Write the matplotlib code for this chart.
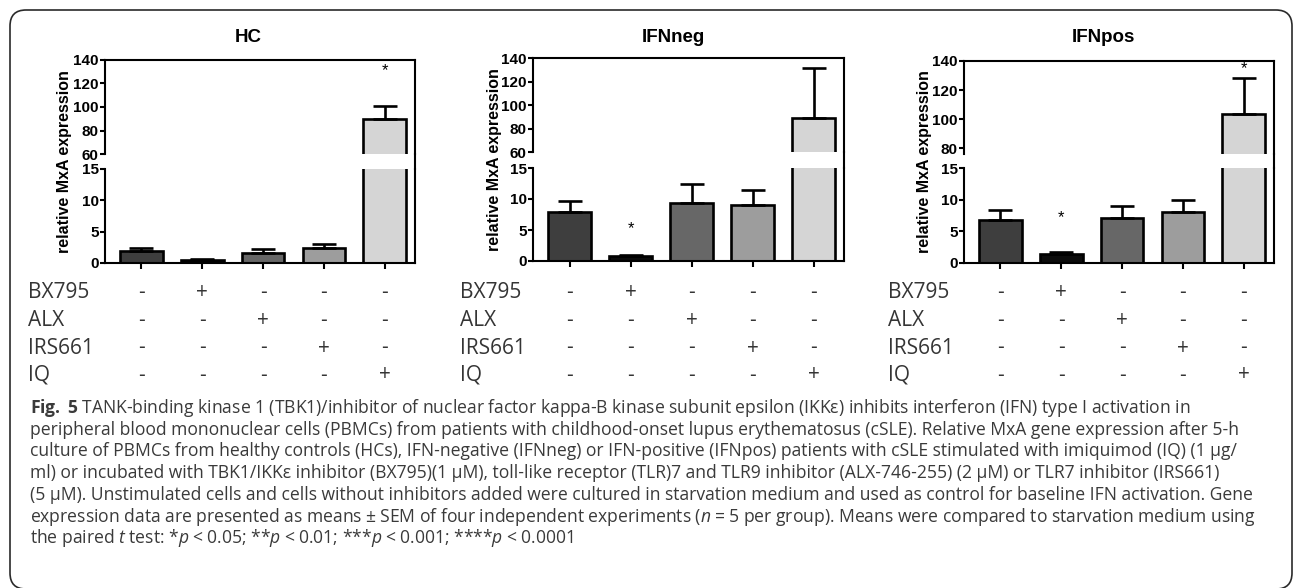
import matplotlib
matplotlib.use("Agg")
import matplotlib.pyplot as plt
from matplotlib import transforms
from matplotlib.lines import Line2D
from matplotlib.patches import FancyBboxPatch

plt.rcParams["font.family"] = ["Liberation Sans", "DejaVu Sans"]
plt.rcParams["mathtext.fontset"] = "custom"
plt.rcParams["mathtext.rm"] = "Open Sans"
plt.rcParams["mathtext.it"] = "Open Sans:italic"
plt.rcParams["mathtext.bf"] = "Open Sans:bold"

# ---- data ----
GROUPS = ["HC", "IFNneg", "IFNpos"]
TREATMENTS = ["BX795", "ALX", "IRS661", "IQ"]
ACTIVE_BAR = [1, 2, 3, 4]          # bar that gets each treatment (+)
HC_MEAN = [1.9, 0.5, 1.65, 2.45, 89.8]
HC_SEM = [0.5, 0.1, 0.55, 0.65, 11.0]
NEG_MEAN = [7.9, 0.75, 9.4, 9.1, 89.2]
NEG_SEM = [1.85, 0.15, 3.0, 2.4, 42.0]
POS_MEAN = [6.75, 1.5, 7.1, 8.05, 103.4]
POS_SEM = [1.65, 0.2, 1.9, 1.9, 24.9]
HC_STARS = [(4, 131)]
NEG_STARS = [(1, 5.2)]
POS_STARS = [(1, 7.1), (4, 135)]
UPPER_LIM = [(60, 140), (60, 140), (76, 140)]
UPPER_TICKS = [[60, 80, 100, 120, 140], [60, 80, 100, 120, 140], [80, 100, 120, 140]]
LOWER_LIM = (0, 15)
LOWER_TICKS = [0, 5, 10, 15]

CAPTION = [
    r"$\mathbf{Fig.}\;\mathbf{5}$ TANK-binding kinase 1 (TBK1)/inhibitor of nuclear factor kappa-B kinase subunit epsilon (IKKε) inhibits interferon (IFN) type I activation in",
    "peripheral blood mononuclear cells (PBMCs) from patients with childhood-onset lupus erythematosus (cSLE). Relative MxA gene expression after 5-h",
    "culture of PBMCs from healthy controls (HCs), IFN-negative (IFNneg) or IFN-positive (IFNpos) patients with cSLE stimulated with imiquimod (IQ) (1 µg/",
    "ml) or incubated with TBK1/IKKε inhibitor (BX795)(1 µM), toll-like receptor (TLR)7 and TLR9 inhibitor (ALX-746-255) (2 µM) or TLR7 inhibitor (IRS661)",
    "(5 µM). Unstimulated cells and cells without inhibitors added were cultured in starvation medium and used as control for baseline IFN activation. Gene",
    r"expression data are presented as means$\;$±$\;$SEM of four independent experiments ($n\;$=$\;$5 per group). Means were compared to starvation medium using",
    r"the paired $t$ test: *$p\;$<$\;$0.05; **$p\;$<$\;$0.01; ***$p\;$<$\;$0.001; ****$p\;$<$\;$0.0001",
]

# ---- layout (pixels from top-left of a 1293x588 canvas) ----
W, H = 1293, 588
BAR_COLORS = ["#3e3e3e", "#0b0b0b", "#676767", "#9d9d9d", "#d5d5d5"]
# left, right, top, upper bottom, lower top, bottom
PANELS = [(105, 415, 60, 154, 169, 263),
          (533, 844, 58, 152, 168, 261),
          (964, 1274, 61, 154, 168, 263)]
TITLE_X = [248, 673, 1103]
YLABEL_X = [65, 495, 925]
ROWLABEL_X = [28, 460, 888]
ROW_Y = [293, 320, 348, 375]
TEXT_GREY = "#353535"


def px_axes(fig, left, top, right, bottom):
    return fig.add_axes([left / W, 1 - bottom / H, (right - left) / W, (bottom - top) / H])


def draw_panel(fig, k, means, sems, stars):
    left, right, top, brk_top, brk_bot, bottom = PANELS[k]
    ax_up = px_axes(fig, left, top, right, brk_top)
    ax_lo = px_axes(fig, left, brk_bot, right, bottom)
    x = list(range(len(means)))
    for ax in (ax_up, ax_lo):
        ax.bar(x, means, width=0.7, color=BAR_COLORS, edgecolor="black",
               linewidth=1.9, zorder=2)
        ax.errorbar(x, means, yerr=[[0] * len(means), sems], fmt="none",
                    ecolor="black", elinewidth=1.9, capsize=8.5, capthick=1.9,
                    zorder=3)
        ax.set_xlim(-0.6, 4.5)
        ax.set_facecolor("none")
        for s in ax.spines.values():
            s.set_linewidth(1.5)
        ax.tick_params(axis="y", length=3.5, width=1.5, pad=1, labelsize=11)

    ax_up.set_ylim(*UPPER_LIM[k])
    ax_up.set_yticks(UPPER_TICKS[k])
    ax_up.spines["bottom"].set_visible(False)
    ax_up.set_xticks([])
    ax_lo.set_ylim(*LOWER_LIM)
    ax_lo.set_yticks(LOWER_TICKS)
    ax_lo.spines["top"].set_visible(False)
    ax_lo.set_xticks(x)
    ax_lo.set_xticklabels([])
    ax_lo.tick_params(axis="x", length=4, width=1.5)
    for ax in (ax_up, ax_lo):
        for lab in ax.get_yticklabels():
            lab.set_fontweight("bold")

    # right spine runs through the break
    fig.add_artist(Line2D([right / W, right / W], [1 - brk_bot / H, 1 - brk_top / H],
                          transform=fig.transFigure, color="black", lw=1.5))

    for i, h in stars:
        ax = ax_up if h > LOWER_LIM[1] else ax_lo
        ax.text(i, h, "*", ha="center", va="center", fontsize=12)

    fig.text(TITLE_X[k] / W, 1 - 38 / H, GROUPS[k], ha="center", va="center",
             fontsize=13.5, fontweight="bold")
    fig.text(YLABEL_X[k] / W, 1 - (top + bottom) / 2 / H, "relative MxA expression",
             rotation=90, ha="center", va="center", fontsize=11.5, fontweight="bold")

    # treatment table under the bars
    tr = transforms.blended_transform_factory(ax_lo.transData, fig.transFigure)
    for r, name in enumerate(TREATMENTS):
        y = 1 - ROW_Y[r] / H
        fig.text(ROWLABEL_X[k] / W, y, name, ha="left", va="center",
                 fontsize=15, family="Open Sans", color=TEXT_GREY)
        for i in x:
            sign = "+" if ACTIVE_BAR[r] == i else "-"
            fig.text(i, y, sign, transform=tr, ha="center", va="center",
                     fontsize=15, family="Open Sans", color=TEXT_GREY)


def main():
    fig = plt.figure(figsize=(W / 100, H / 100), dpi=100)
    draw_panel(fig, 0, HC_MEAN, HC_SEM, HC_STARS)
    draw_panel(fig, 1, NEG_MEAN, NEG_SEM, NEG_STARS)
    draw_panel(fig, 2, POS_MEAN, POS_SEM, POS_STARS)

    for j, line in enumerate(CAPTION):
        fig.text(30 / W, 1 - (413 + 21.7 * j) / H, line, ha="left", va="baseline",
                 fontsize=12.65, family="Open Sans", color="#3a3a3a")

    box = FancyBboxPatch((10, -1), 1282, H - 10 + 1,
                         boxstyle="round,pad=0,rounding_size=16",
                         transform=transforms.IdentityTransform(),
                         fill=False, edgecolor="#2a2a2a", linewidth=1.2)
    fig.add_artist(box)
    fig.savefig("out.png", dpi=100)


if __name__ == "__main__":
    main()
